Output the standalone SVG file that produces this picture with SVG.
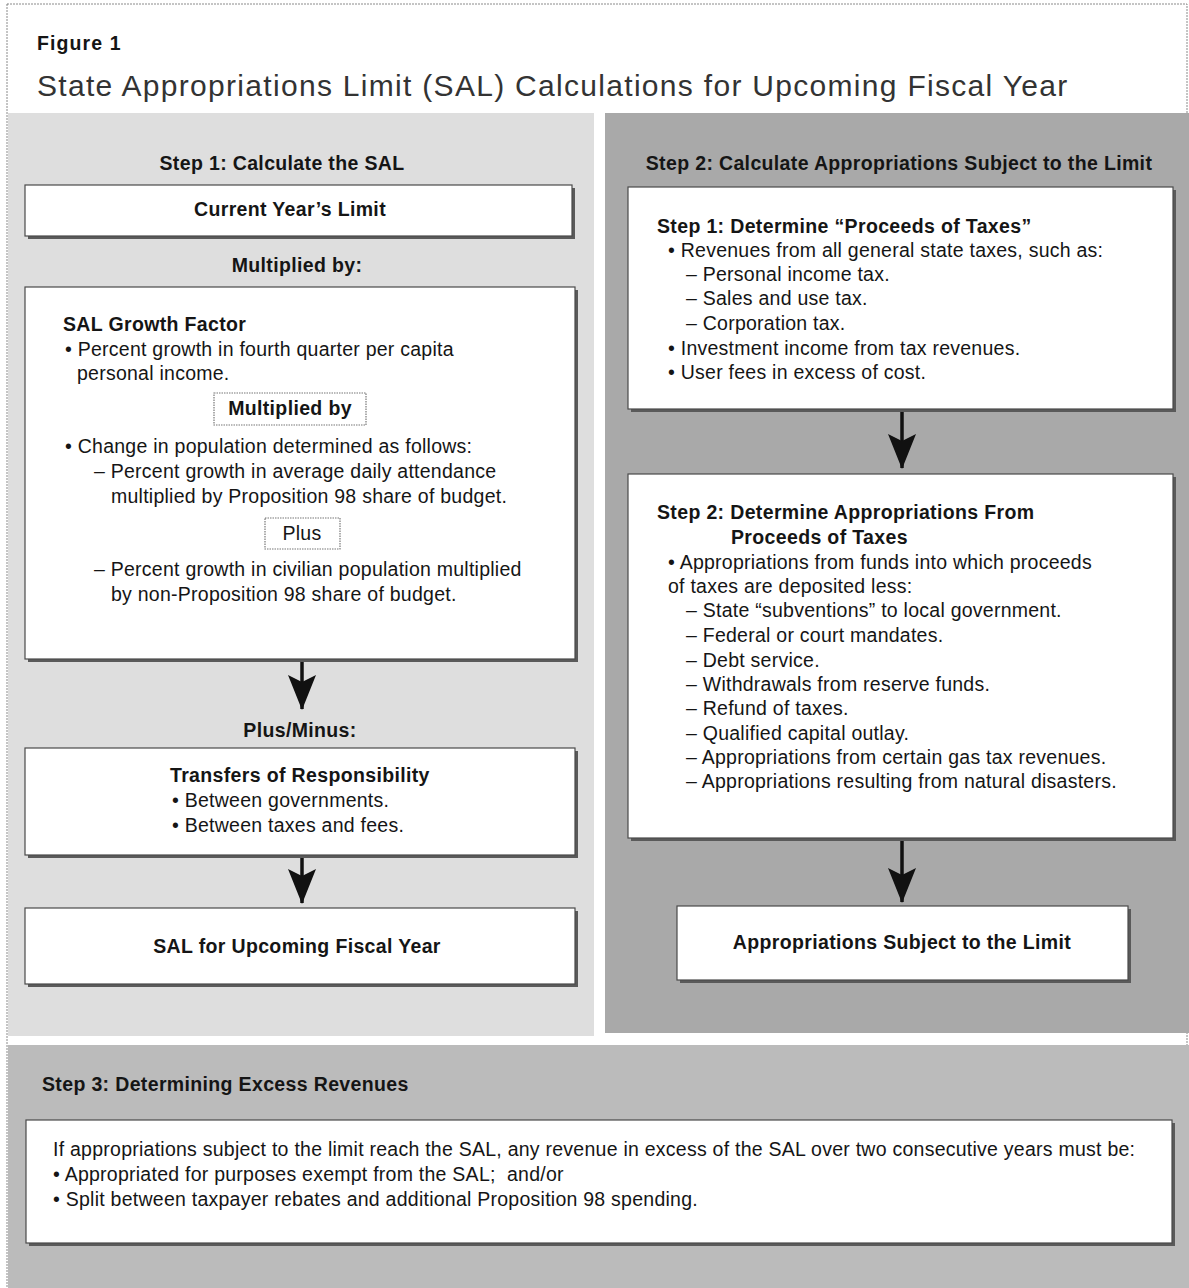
<svg xmlns="http://www.w3.org/2000/svg" width="1189" height="1288" viewBox="0 0 1189 1288">
<style>
  text { font-family: "Liberation Sans", Arial, sans-serif; fill: #151515; }
  .t { font-size: 19.5px; letter-spacing: 0.25px; }
  .hd { font-size: 19.5px; font-weight: bold; letter-spacing: 0.35px; }
  .box { fill: #ffffff; stroke: #4a4a4a; stroke-width: 1.2; }
  .shadow { fill: #5a5a5a; }
  .small { fill: #ffffff; stroke: #777; stroke-width: 1.2; stroke-dasharray: 1.5 1; }
  .conn { stroke: #111; stroke-width: 3.5; fill: none; }
  .mid { text-anchor: middle; }
</style>
<defs>
  <marker id="ah" markerUnits="userSpaceOnUse" markerWidth="35" markerHeight="30" refX="34" refY="15" orient="auto" viewBox="0 0 35 30">
    <path d="M35,15 L0,1 L7,15 L0,29 Z" fill="#111"/>
  </marker>
</defs>

<rect x="0" y="0" width="1189" height="1288" fill="#ffffff"/>
<rect x="7" y="4" width="1180" height="1290" fill="none" stroke="#8a8a8a" stroke-width="1" stroke-dasharray="2 1"/>

<g id="header">
  <text x="37" y="50" style="font-size:19.5px;font-weight:bold;letter-spacing:1.1px">Figure 1</text>
  <text x="37" y="96" style="font-size:30px;fill:#333;letter-spacing:1.3px">State Appropriations Limit (SAL) Calculations for Upcoming Fiscal Year</text>
</g>

<g id="panels">
  <rect x="8" y="113" width="586" height="923" fill="#dedede"/>
  <rect x="605" y="113" width="584" height="920" fill="#a9a9a9"/>
  <rect x="8" y="1045" width="1181" height="243" fill="#bbbbbb"/>
</g>

<g id="connectors">
  <line class="conn" x1="302" y1="660" x2="302" y2="709" marker-end="url(#ah)"/>
  <line class="conn" x1="302" y1="856" x2="302" y2="903" marker-end="url(#ah)"/>
  <line class="conn" x1="902" y1="410" x2="902" y2="468" marker-end="url(#ah)"/>
  <line class="conn" x1="902" y1="839" x2="902" y2="902" marker-end="url(#ah)"/>
</g>

<g id="step1-label">
  <text class="hd mid" x="282" y="170">Step 1: Calculate the SAL</text>
</g>

<g id="current-limit">
  <rect class="shadow" x="28" y="188" width="547" height="51"/>
  <rect class="box" x="25" y="185" width="547" height="51"/>
  <text class="hd mid" x="290" y="216">Current Year’s Limit</text>
</g>

<g id="multiplied-label">
  <text class="hd mid" x="297" y="272">Multiplied by:</text>
</g>

<g id="growth-factor">
  <rect class="shadow" x="28" y="290" width="550" height="372"/>
  <rect class="box" x="25" y="287" width="550" height="372"/>
  <text class="hd" x="63" y="331">SAL Growth Factor</text>
  <text class="t" x="65" y="356">• Percent growth in fourth quarter per capita</text>
  <text class="t" x="77" y="380">personal income.</text>
  <rect class="small" x="214" y="393" width="152" height="32"/>
  <text class="hd mid" x="290" y="415">Multiplied by</text>
  <text class="t" x="65" y="453">• Change in population determined as follows:</text>
  <text class="t" x="94" y="478">– Percent growth in average daily attendance</text>
  <text class="t" x="111" y="503">multiplied by Proposition 98 share of budget.</text>
  <rect class="small" x="265" y="518" width="75" height="31"/>
  <text class="t mid" x="302" y="540">Plus</text>
  <text class="t" x="94" y="576">– Percent growth in civilian population multiplied</text>
  <text class="t" x="111" y="601">by non-Proposition 98 share of budget.</text>
</g>

<g id="plusminus-label">
  <text class="hd mid" x="300" y="737">Plus/Minus:</text>
</g>

<g id="transfers">
  <rect class="shadow" x="28" y="751" width="550" height="107"/>
  <rect class="box" x="25" y="748" width="550" height="107"/>
  <text class="hd" x="170" y="782">Transfers of Responsibility</text>
  <text class="t" x="172" y="807">• Between governments.</text>
  <text class="t" x="172" y="832">• Between taxes and fees.</text>
</g>

<g id="sal-upcoming">
  <rect class="shadow" x="28" y="911" width="550" height="76"/>
  <rect class="box" x="25" y="908" width="550" height="76"/>
  <text class="hd mid" x="297" y="953">SAL for Upcoming Fiscal Year</text>
</g>

<g id="step2-label">
  <text class="hd mid" x="899" y="170">Step 2: Calculate Appropriations Subject to the Limit</text>
</g>

<g id="proceeds">
  <rect class="shadow" x="631" y="190" width="545" height="222"/>
  <rect class="box" x="628" y="187" width="545" height="222"/>
  <text class="hd" x="657" y="233">Step 1: Determine “Proceeds of Taxes”</text>
  <text class="t" x="668" y="257">• Revenues from all general state taxes, such as:</text>
  <text class="t" x="686" y="281">– Personal income tax.</text>
  <text class="t" x="686" y="305">– Sales and use tax.</text>
  <text class="t" x="686" y="330">– Corporation tax.</text>
  <text class="t" x="668" y="355">• Investment income from tax revenues.</text>
  <text class="t" x="668" y="379">• User fees in excess of cost.</text>
</g>

<g id="appropriations-from">
  <rect class="shadow" x="631" y="477" width="545" height="364"/>
  <rect class="box" x="628" y="474" width="545" height="364"/>
  <text class="hd" x="657" y="519">Step 2: Determine Appropriations From</text>
  <text class="hd" x="731" y="544">Proceeds of Taxes</text>
  <text class="t" x="668" y="569">• Appropriations from funds into which proceeds</text>
  <text class="t" x="668" y="593">of taxes are deposited less:</text>
  <text class="t" x="686" y="617">– State “subventions” to local government.</text>
  <text class="t" x="686" y="642">– Federal or court mandates.</text>
  <text class="t" x="686" y="667">– Debt service.</text>
  <text class="t" x="686" y="691">– Withdrawals from reserve funds.</text>
  <text class="t" x="686" y="715">– Refund of taxes.</text>
  <text class="t" x="686" y="740">– Qualified capital outlay.</text>
  <text class="t" x="686" y="764">– Appropriations from certain gas tax revenues.</text>
  <text class="t" x="686" y="788">– Appropriations resulting from natural disasters.</text>
</g>

<g id="appropriations-subject">
  <rect class="shadow" x="680" y="909" width="451" height="74"/>
  <rect class="box" x="677" y="906" width="451" height="74"/>
  <text class="hd mid" x="902" y="949">Appropriations Subject to the Limit</text>
</g>

<g id="step3-label">
  <text class="hd" x="42" y="1091">Step 3: Determining Excess Revenues</text>
</g>

<g id="excess-revenues">
  <rect class="shadow" x="29" y="1123" width="1146" height="123"/>
  <rect class="box" x="26" y="1120" width="1146" height="123"/>
  <text class="t" x="53" y="1156">If appropriations subject to the limit reach the SAL, any revenue in excess of the SAL over two consecutive years must be:</text>
  <text class="t" x="53" y="1181">• Appropriated for purposes exempt from the SAL;&#160; and/or</text>
  <text class="t" x="53" y="1206">• Split between taxpayer rebates and additional Proposition 98 spending.</text>
</g>
</svg>
